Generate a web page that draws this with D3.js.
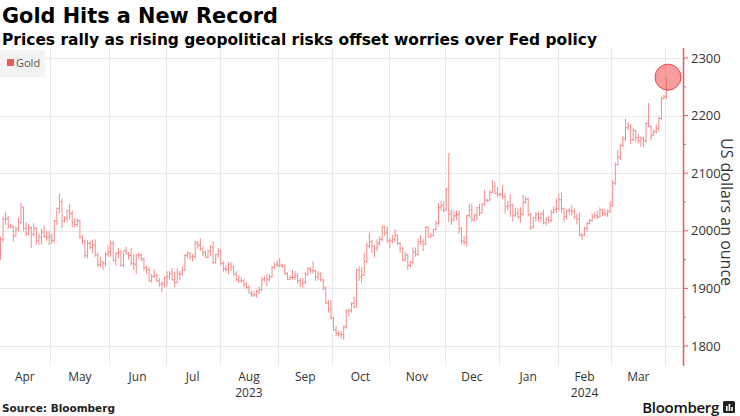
<!DOCTYPE html>
<html><head><meta charset="utf-8">
<script src="https://cdn.jsdelivr.net/npm/d3@7"></script>
<style>
html,body{margin:0;padding:0;background:#fff;}
svg{display:block;}
</style></head>
<body>
<svg id="chart" width="740" height="416"></svg>
<script>
const dates = [
"2023-04-03","2023-04-04","2023-04-05","2023-04-06","2023-04-07","2023-04-10","2023-04-11","2023-04-12","2023-04-13","2023-04-14","2023-04-17","2023-04-18","2023-04-19","2023-04-20","2023-04-21","2023-04-24","2023-04-25","2023-04-26","2023-04-27","2023-04-28",
"2023-05-01","2023-05-02","2023-05-03","2023-05-04","2023-05-05","2023-05-08","2023-05-09","2023-05-10","2023-05-11","2023-05-12","2023-05-15","2023-05-16","2023-05-17","2023-05-18","2023-05-19","2023-05-22","2023-05-23","2023-05-24","2023-05-25","2023-05-26","2023-05-29","2023-05-30","2023-05-31",
"2023-06-01","2023-06-02","2023-06-05","2023-06-06","2023-06-07","2023-06-08","2023-06-09","2023-06-12","2023-06-13","2023-06-14","2023-06-15","2023-06-16","2023-06-19","2023-06-20","2023-06-21","2023-06-22","2023-06-23","2023-06-26","2023-06-27","2023-06-28","2023-06-29","2023-06-30",
"2023-07-03","2023-07-04","2023-07-05","2023-07-06","2023-07-07","2023-07-10","2023-07-11","2023-07-12","2023-07-13","2023-07-14","2023-07-17","2023-07-18","2023-07-19","2023-07-20","2023-07-21","2023-07-24","2023-07-25","2023-07-26","2023-07-27","2023-07-28","2023-07-31",
"2023-08-01","2023-08-02","2023-08-03","2023-08-04","2023-08-07","2023-08-08","2023-08-09","2023-08-10","2023-08-11","2023-08-14","2023-08-15","2023-08-16","2023-08-17","2023-08-18","2023-08-21","2023-08-22","2023-08-23","2023-08-24","2023-08-25","2023-08-28","2023-08-29","2023-08-30","2023-08-31",
"2023-09-01","2023-09-04","2023-09-05","2023-09-06","2023-09-07","2023-09-08","2023-09-11","2023-09-12","2023-09-13","2023-09-14","2023-09-15","2023-09-18","2023-09-19","2023-09-20","2023-09-21","2023-09-22","2023-09-25","2023-09-26","2023-09-27","2023-09-28","2023-09-29",
"2023-10-02","2023-10-03","2023-10-04","2023-10-05","2023-10-06","2023-10-09","2023-10-10","2023-10-11","2023-10-12","2023-10-13","2023-10-16","2023-10-17","2023-10-18","2023-10-19","2023-10-20","2023-10-23","2023-10-24","2023-10-25","2023-10-26","2023-10-27","2023-10-30","2023-10-31",
"2023-11-01","2023-11-02","2023-11-03","2023-11-06","2023-11-07","2023-11-08","2023-11-09","2023-11-10","2023-11-13","2023-11-14","2023-11-15","2023-11-16","2023-11-17","2023-11-20","2023-11-21","2023-11-22","2023-11-23","2023-11-24","2023-11-27","2023-11-28","2023-11-29","2023-11-30",
"2023-12-01","2023-12-04","2023-12-05","2023-12-06","2023-12-07","2023-12-08","2023-12-11","2023-12-12","2023-12-13","2023-12-14","2023-12-15","2023-12-18","2023-12-19","2023-12-20","2023-12-21","2023-12-22","2023-12-25","2023-12-26","2023-12-27","2023-12-28","2023-12-29",
"2024-01-01","2024-01-02","2024-01-03","2024-01-04","2024-01-05","2024-01-08","2024-01-09","2024-01-10","2024-01-11","2024-01-12","2024-01-15","2024-01-16","2024-01-17","2024-01-18","2024-01-19","2024-01-22","2024-01-23","2024-01-24","2024-01-25","2024-01-26","2024-01-29","2024-01-30","2024-01-31",
"2024-02-01","2024-02-02","2024-02-05","2024-02-06","2024-02-07","2024-02-08","2024-02-09","2024-02-12","2024-02-13","2024-02-14","2024-02-15","2024-02-16","2024-02-19","2024-02-20","2024-02-21","2024-02-22","2024-02-23","2024-02-26","2024-02-27","2024-02-28","2024-02-29",
"2024-03-01","2024-03-04","2024-03-05","2024-03-06","2024-03-07","2024-03-08","2024-03-11","2024-03-12","2024-03-13","2024-03-14","2024-03-15","2024-03-18","2024-03-19","2024-03-20","2024-03-21","2024-03-22","2024-03-25","2024-03-26","2024-03-27","2024-03-28","2024-03-29",
"2024-04-01"
];
const open = [
1969,1985,2020,2021,2008,2007,1991,2003,2014,2040,2004,1995,2005,1994,2004,1983,1989,1998,1990,1988,
1990,1983,2017,2039,2050,2017,2022,2034,2030,2015,2011,2017,1989,1982,1957,1978,1971,1975,1958,1941,1946,1943,1959,
1963,1978,1948,1961,1963,1940,1965,1961,1957,1943,1942,1958,1958,1951,1936,1932,1913,1921,1923,1913,1907,1908,
1919,1921,1926,1915,1910,1925,1925,1932,1957,1961,1955,1955,1979,1975,1969,1962,1954,1965,1972,1945,1959,
1965,1944,1934,1933,1942,1937,1925,1915,1913,1914,1907,1902,1892,1889,1889,1895,1898,1915,1917,1915,1920,1937,1942,
1940,1940,1938,1926,1916,1919,1919,1922,1913,1908,1910,1924,1934,1931,1930,1920,1925,1915,1901,1875,1864,
1849,1828,1822,1821,1820,1833,1861,1861,1874,1868,1932,1920,1923,1947,1974,1981,1973,1970,1979,1985,2006,1996,
1983,1982,1985,1992,1978,1970,1950,1958,1940,1946,1963,1959,1981,1981,1977,2006,1990,1992,2002,2013,2041,2044,
2036,2072,2029,2019,2026,2028,2004,1982,1980,2027,2036,2019,2027,2040,2031,2046,2053,2053,2067,2077,2065,
2063,2063,2059,2042,2043,2045,2027,2030,2024,2029,2049,2055,2028,2006,2023,2029,2022,2029,2014,2020,2018,2032,2037,
2039,2054,2039,2025,2035,2035,2034,2024,2020,1993,1992,2004,2013,2018,2024,2026,2024,2036,2031,2029,2034,
2044,2083,2115,2128,2148,2160,2179,2182,2158,2174,2162,2156,2160,2157,2186,2181,2166,2172,2178,2195,2230,
2233
];
const high = [
1990,2025,2032,2026,2012,2010,2008,2023,2048,2042,2015,2012,2008,2013,2006,1995,2004,2009,2000,2000,
1995,2019,2040,2065,2056,2025,2037,2047,2035,2022,2022,2020,1993,1985,1984,1983,1985,1985,1962,1955,1948,1963,1975,
1983,1983,1963,1970,1967,1966,1972,1963,1970,1959,1960,1963,1960,1954,1940,1937,1925,1933,1926,1918,1912,1920,
1930,1930,1935,1929,1935,1930,1938,1960,1964,1963,1960,1982,1982,1987,1973,1966,1967,1975,1982,1960,1970,
1968,1947,1941,1946,1945,1940,1930,1923,1919,1916,1911,1906,1896,1896,1898,1903,1920,1922,1925,1925,1939,1945,1949,
1953,1943,1942,1928,1923,1932,1930,1927,1918,1918,1929,1937,1937,1947,1932,1930,1928,1917,1903,1880,1880,
1850,1835,1827,1826,1836,1864,1866,1876,1885,1934,1938,1937,1962,1980,1997,1984,1976,1985,1990,2010,2009,2007,
1987,1993,2003,1994,1980,1972,1963,1960,1947,1971,1971,1986,1993,1986,2008,2008,1996,2004,2018,2048,2052,2051,
2075,2135,2037,2035,2035,2035,2006,1991,2028,2047,2048,2030,2042,2047,2048,2071,2056,2070,2088,2084,2076,
2066,2079,2065,2052,2064,2047,2040,2039,2041,2062,2059,2057,2031,2024,2033,2033,2033,2036,2024,2026,2036,2043,2056,
2065,2066,2040,2037,2040,2044,2039,2030,2031,1996,2007,2016,2020,2030,2033,2035,2041,2038,2037,2037,2052,
2088,2119,2141,2152,2165,2195,2189,2185,2178,2175,2168,2164,2163,2189,2222,2183,2177,2185,2198,2233,2236,
2265
];
const low = [
1950,1980,2010,2003,2004,1981,1989,1999,2011,1999,1990,1992,1970,1990,1976,1975,1976,1988,1982,1975,
1977,1978,2010,2030,2005,2014,2015,2020,2006,2005,2007,1986,1976,1953,1952,1968,1960,1955,1937,1937,1932,1939,1955,
1955,1947,1939,1952,1938,1937,1958,1950,1940,1932,1925,1951,1947,1931,1925,1911,1910,1918,1911,1903,1893,1902,
1903,1916,1914,1902,1909,1915,1922,1930,1952,1950,1947,1952,1969,1965,1956,1953,1952,1956,1942,1943,1953,
1940,1929,1928,1925,1930,1922,1912,1909,1910,1902,1899,1891,1885,1885,1884,1890,1895,1911,1904,1912,1918,1933,1937,
1936,1936,1923,1915,1914,1915,1915,1908,1902,1901,1908,1922,1926,1926,1913,1915,1912,1896,1873,1858,1846,
1827,1817,1816,1813,1810,1830,1851,1858,1865,1867,1913,1909,1922,1945,1969,1962,1954,1965,1974,1982,1991,1979,
1970,1978,1980,1975,1962,1947,1946,1932,1936,1942,1955,1956,1975,1965,1975,1988,1987,1990,2001,2010,2035,2032,
2035,2015,2010,2016,2018,1995,1976,1975,1973,2023,2016,2016,2018,2026,2030,2043,2050,2051,2065,2064,2058,
2060,2055,2030,2036,2024,2016,2024,2021,2014,2026,2047,2025,2001,2004,2016,2016,2015,2011,2009,2013,2015,2030,2031,
2035,2031,2015,2019,2028,2027,2021,2011,1990,1984,1991,1998,2011,2016,2021,2020,2023,2025,2025,2024,2031,
2042,2079,2113,2123,2145,2155,2175,2150,2156,2154,2152,2146,2146,2152,2180,2157,2164,2169,2172,2192,2228,
2229
];
const close = [
1985,2020,2021,2008,2007,1991,2003,2014,2040,2004,1995,2005,1994,2004,1983,1989,1998,1990,1988,1990,
1983,2017,2039,2050,2017,2022,2034,2030,2015,2011,2017,1989,1982,1957,1978,1971,1975,1958,1941,1946,1943,1959,1963,
1978,1948,1961,1963,1940,1965,1961,1957,1943,1942,1958,1958,1951,1936,1932,1913,1921,1923,1913,1907,1908,1919,
1921,1926,1915,1910,1925,1925,1932,1957,1961,1955,1955,1979,1975,1969,1962,1954,1965,1972,1945,1959,1965,
1944,1934,1933,1942,1937,1925,1915,1913,1914,1907,1902,1892,1889,1889,1895,1898,1915,1917,1915,1920,1937,1942,1940,
1940,1938,1926,1916,1919,1919,1922,1913,1908,1910,1924,1934,1931,1930,1920,1925,1915,1901,1875,1864,1849,
1828,1822,1821,1820,1833,1861,1861,1874,1868,1932,1920,1923,1947,1974,1981,1973,1970,1979,1985,2006,1996,1983,
1982,1985,1992,1978,1970,1950,1958,1940,1946,1963,1959,1981,1981,1977,2006,1990,1992,2002,2013,2041,2044,2036,
2072,2029,2019,2026,2028,2004,1982,1980,2027,2036,2019,2027,2040,2031,2046,2053,2053,2067,2077,2065,2063,
2063,2059,2042,2043,2045,2027,2030,2024,2029,2049,2055,2028,2006,2023,2029,2022,2029,2014,2020,2018,2032,2037,2039,
2054,2039,2025,2035,2035,2034,2024,2020,1993,1992,2004,2013,2018,2024,2026,2024,2036,2031,2029,2034,2044,
2083,2115,2128,2148,2160,2179,2182,2158,2174,2162,2156,2160,2157,2186,2181,2166,2172,2178,2195,2230,2233,
2250
];
const yTicks = [1800, 1900, 2000, 2100, 2200, 2300];
const monthNames = ["Jan","Feb","Mar","Apr","May","Jun","Jul","Aug","Sep","Oct","Nov","Dec"];
const yearLabels = [{month: "2023-08", label: "2023"}, {month: "2024-02", label: "2024"}];
const seriesName = "Gold";

const svg = d3.select("#chart");
const plot = {left: 0, right: 683, top: 48, bottom: 366};
const N = dates.length;
const x = d3.scaleLinear().domain([0, N - 1]).range([0.5, 666.5]);
const y = d3.scaleLinear().domain([1800, 2300]).range([346, 58]);
const RED = "#ef5a5a";

// Title & subtitle
svg.append("text").attr("x", 2).attr("y", 23)
  .attr("font-family", "'DejaVu Sans', sans-serif").attr("font-weight", 700)
  .attr("font-size", 21).attr("fill", "#000").attr("textLength", 276).attr("lengthAdjust", "spacingAndGlyphs")
  .text("Gold Hits a New Record");
svg.append("text").attr("x", 2).attr("y", 44.5)
  .attr("font-family", "'DejaVu Sans', sans-serif").attr("font-weight", 700)
  .attr("font-size", 15.5).attr("fill", "#000").attr("textLength", 595).attr("lengthAdjust", "spacingAndGlyphs")
  .text("Prices rally as rising geopolitical risks offset worries over Fed policy");

// month boundaries
const monthKey = d => d.slice(0, 7);
const monthStarts = [];
dates.forEach((d, i) => { if (i === 0 || monthKey(dates[i - 1]) !== monthKey(d)) monthStarts.push({key: monthKey(d), i}); });
const boundX = i => x(i - 0.5);

// horizontal gridlines
svg.append("g").selectAll("line").data(yTicks).join("line")
  .attr("x1", plot.left).attr("x2", plot.right)
  .attr("y1", d => Math.round(y(d)) + 0.5).attr("y2", d => Math.round(y(d)) + 0.5)
  .attr("stroke", "#e9e9e9").attr("stroke-width", 1);

// vertical gridlines at month starts
svg.append("g").selectAll("line").data(monthStarts.filter(m => m.i > 0)).join("line")
  .attr("x1", d => Math.round(boundX(d.i)) + 0.5).attr("x2", d => Math.round(boundX(d.i)) + 0.5)
  .attr("y1", plot.top).attr("y2", plot.bottom)
  .attr("stroke", "#e9e9e9").attr("stroke-width", 1);

// legend
const lg = svg.append("g");
lg.append("rect").attr("x", 0).attr("y", 50).attr("width", 45).attr("height", 27).attr("fill", "#f3f3f3");
lg.append("rect").attr("x", 7).attr("y", 59).attr("width", 7).attr("height", 7).attr("fill", RED);
lg.append("text").attr("x", 16).attr("y", 66.5).attr("font-family", "'Open Sans', sans-serif")
  .attr("font-size", 11).attr("fill", "#555").text(seriesName);

// OHLC bars
const idx = d3.range(N);
svg.append("g").selectAll("path").data(idx).join("path")
  .attr("d", i => {
    const cx = x(i);
    return `M${cx - 1.3},${y(open[i])}H${cx}M${cx},${y(high[i])}V${y(low[i])}M${cx},${y(close[i])}H${cx + 1.3}`;
  })
  .attr("fill", "none").attr("stroke", "#f28c8c").attr("stroke-width", 1);

// highlight circle at the last (record) bar
const last = N - 1;
svg.append("circle").attr("cx", x(last) + 1.5).attr("cy", y(high[last]) - 1).attr("r", 13)
  .attr("fill", "#f25c5c").attr("fill-opacity", 0.6).attr("stroke", "#e84848").attr("stroke-width", 1);

// right axis
const axisG = svg.append("g").attr("transform", `translate(${plot.right},0)`);
axisG.append("line").attr("x1", 0.5).attr("x2", 0.5).attr("y1", plot.top).attr("y2", plot.bottom)
  .attr("stroke", RED).attr("stroke-width", 1.5);
const minorTicks = d3.range(1800, 2301, 50);
axisG.selectAll("line.tick").data(minorTicks).join("line").attr("class", "tick")
  .attr("x1", 0).attr("x2", d => d % 100 === 0 ? 5 : 3)
  .attr("y1", d => y(d)).attr("y2", d => y(d)).attr("stroke", RED).attr("stroke-width", 1);
axisG.selectAll("text").data(yTicks).join("text")
  .attr("x", 8).attr("y", d => y(d)).attr("dy", "0.35em")
  .attr("font-family", "'Open Sans', sans-serif").attr("font-size", 13).attr("fill", "#333")
  .text(d => d);
svg.append("text").attr("transform", "translate(721,212) rotate(90)")
  .attr("text-anchor", "middle").attr("font-family", "'Open Sans', sans-serif")
  .attr("font-size", 16).attr("fill", "#333").text("US dollars an ounce");

// x axis month labels
const bounds = monthStarts.map(m => boundX(m.i));
bounds.push(x(N - 1) + 1.3);
const xLabels = monthStarts.slice(0, monthStarts.length - 1).map((m, k) => ({
  key: m.key, cx: (bounds[k] + bounds[k + 1]) / 2
}));
svg.append("g").selectAll("text").data(xLabels).join("text")
  .attr("x", d => d.cx).attr("y", 381).attr("text-anchor", "middle")
  .attr("font-family", "'Open Sans', sans-serif").attr("font-size", 12).attr("fill", "#333")
  .text(d => monthNames[+d.key.slice(5, 7) - 1]);
svg.append("g").selectAll("text").data(yearLabels).join("text")
  .attr("x", d => xLabels.find(l => l.key === d.month).cx).attr("y", 397).attr("text-anchor", "middle")
  .attr("font-family", "'Open Sans', sans-serif").attr("font-size", 12).attr("fill", "#333")
  .text(d => d.label);

// footer
svg.append("text").attr("x", 2).attr("y", 412)
  .attr("font-family", "'DejaVu Sans', sans-serif").attr("font-weight", 700)
  .attr("font-size", 10.5).attr("fill", "#222").text("Source: Bloomberg");
svg.append("text").attr("x", 719).attr("y", 413).attr("text-anchor", "end")
  .attr("font-family", "'Open Sans', sans-serif").attr("font-weight", 600)
  .attr("font-size", 15).attr("fill", "#111").attr("letter-spacing", -0.3).text("Bloomberg");
const logo = svg.append("g").attr("transform", "translate(723,401)");
logo.append("rect").attr("width", 12).attr("height", 12).attr("rx", 1.5).attr("fill", "#222");
logo.append("rect").attr("x", 3).attr("y", 5).attr("width", 1.6).attr("height", 5).attr("fill", "#fff");
logo.append("rect").attr("x", 5.6).attr("y", 3).attr("width", 1.6).attr("height", 7).attr("fill", "#fff");
logo.append("rect").attr("x", 8.2).attr("y", 6).attr("width", 1.6).attr("height", 4).attr("fill", "#fff");
</script>
</body></html>
